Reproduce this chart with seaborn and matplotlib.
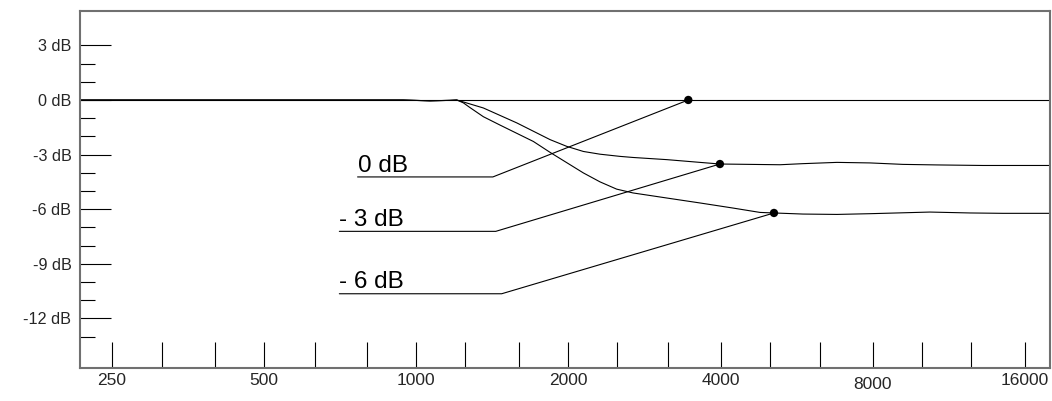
"""
Respuesta en frecuencia: filtro de agudos con tres ajustes (0, -3, -6 dB).
Versión estática con seaborn, exportada a out.png.
"""

import matplotlib
matplotlib.use("Agg")
import matplotlib.pyplot as plt
import matplotlib.transforms as mtransforms
from matplotlib.ticker import NullFormatter
import seaborn as sns

sns.set_theme(style="white")
plt.rcParams["font.family"] = ["Liberation Sans", "DejaVu Sans"]

# -----------------------------------------------------------------------
# Datos (Hz / dB)
# -----------------------------------------------------------------------
freq_0 = [200, 20000]
db_0 = [0, 0]

freq_m3 = [200, 942, 1065, 1167, 1203, 1240, 1358, 1581, 1840, 1985, 2141,
           2309, 2529, 2684, 3133, 3640, 3986, 5238, 5817, 6791, 7892,
           9170, 10703, 13195, 20000]
db_m3 = [0, 0, -0.05, -0.02, 0, -0.11, -0.44, -1.26, -2.18, -2.55, -2.83,
         -2.98, -3.10, -3.16, -3.28, -3.43, -3.52, -3.56, -3.50, -3.43,
         -3.46, -3.54, -3.57, -3.60, -3.60]

freq_m6 = [200, 942, 1065, 1167, 1203, 1240, 1278, 1358, 1465, 1705, 1840,
           2141, 2309, 2491, 2684, 3133, 3640, 4231, 4783, 5098, 5817,
           6791, 7892, 10368, 12440, 14455, 20000]
db_m6 = [0, 0, -0.05, -0.02, 0, -0.16, -0.42, -0.92, -1.38, -2.28, -2.88,
         -4.01, -4.50, -4.90, -5.11, -5.39, -5.66, -5.94, -6.18, -6.21,
         -6.27, -6.29, -6.25, -6.16, -6.21, -6.23, -6.23]

# puntos marcados sobre cada curva
marker_freq = [3452, 3986, 5098]
marker_db = [0, -3.52, -6.21]

# etiquetas con su línea guía
label_text = ["0 dB", "- 3 dB", "- 6 dB"]
label_freq = [766, 705, 705]
label_db = [-3.96, -6.91, -10.34]
underline_db = [-4.23, -7.22, -10.65]
underline_end = [1418, 1437, 1476]

x_major = [250, 500, 1000, 2000, 4000, 8000, 16000]
x_labels = ["250", "500", "1000", "2000", "4000", "8000", "16000"]
x_minor = [315, 400, 630, 800, 1250, 1600, 2500, 3150, 5000, 6300,
           10000, 12500]
y_major = [-12, -9, -6, -3, 0, 3]
y_labels = ["-12 dB", "-9 dB", "-6 dB", "-3 dB", "0 dB", "3 dB"]
y_minor = [-13, -11, -10, -8, -7, -5, -4, -2, -1, 1, 2]

# -----------------------------------------------------------------------
# Figura
# -----------------------------------------------------------------------
fig = plt.figure(figsize=(10.52, 4.01), dpi=100)
ax = fig.add_axes([0.0765, 0.0823, 0.9215, 0.8903])

curves = [(freq_0, db_0), (freq_m3, db_m3), (freq_m6, db_m6)]
for f, d in curves:
    sns.lineplot(x=f, y=d, ax=ax, color="black", linewidth=0.8,
                 sort=False, estimator=None)

for i in range(len(label_text)):
    gx = [label_freq[i], underline_end[i], marker_freq[i]]
    gy = [underline_db[i], underline_db[i], marker_db[i]]
    sns.lineplot(x=gx, y=gy, ax=ax, color="black", linewidth=0.8,
                 sort=False, estimator=None)
    ax.text(label_freq[i], label_db[i], label_text[i], fontsize=17.5,
            ha="left", va="baseline", color="black")

sns.scatterplot(x=marker_freq, y=marker_db, ax=ax, color="black", s=36,
                edgecolor="none", zorder=5)

ax.set_xscale("log")
ax.set_xlim(217, 17900)
ax.set_ylim(-14.73, 4.89)

ax.set_xticks(x_major, x_labels)
ax.set_xticks(x_minor, minor=True)
ax.xaxis.set_minor_formatter(NullFormatter())
ax.set_yticks(y_major, y_labels)
ax.set_yticks(y_minor, minor=True)

ax.tick_params(axis="x", which="both", direction="in", length=18.7,
               width=0.8, color="black", labelsize=12.5, pad=3.6,
               bottom=True)
ax.tick_params(axis="y", which="major", direction="in", length=22,
               width=0.8, color="black", labelsize=11.7, pad=6.5, left=True)
ax.tick_params(axis="y", which="minor", direction="in", length=11,
               width=0.8, color="black", left=True)

# en el original la etiqueta "8000" aparece algo más abajo
lbl = ax.get_xticklabels()[5]
lbl.set_transform(lbl.get_transform() +
                  mtransforms.ScaledTranslation(0, -0.04, fig.dpi_scale_trans))

for s in ax.spines.values():
    s.set_color("#707070")
    s.set_linewidth(1.5)
    s.set_visible(True)

ax.set_xlabel("")
ax.set_ylabel("")
ax.grid(False)

fig.savefig("out.png", dpi=100)
